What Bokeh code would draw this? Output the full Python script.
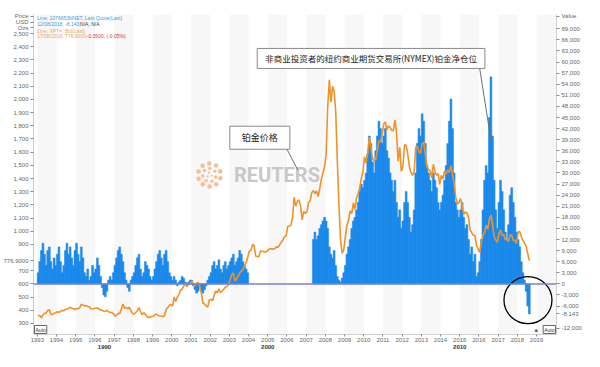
import numpy as np
from bokeh.plotting import figure
from bokeh.models import (Range1d, LinearAxis, FixedTicker, NumeralTickFormatter,
                          Span, BoxAnnotation, Label, Arrow)
from bokeh.embed import file_html
from bokeh.resources import INLINE

# ---------------- data ----------------
START_YEAR = 1993
# platinum price, USD/oz, monthly from Jan 1993 to Aug 2018
price = [
    356, 361, 343, 363, 377, 379, 399, 403, 368, 368, 377, 381,        # 1993
    389, 385, 391, 400, 395, 406, 410, 414, 423, 416, 411, 406,        # 1994
    413, 411, 419, 445, 439, 435, 434, 428, 426, 410, 411, 413,        # 1995
    417, 417, 410, 402, 401, 392, 391, 400, 389, 384, 383, 375,        # 1996
    356, 362, 377, 374, 410, 447, 415, 423, 410, 422, 398, 374,        # 1997
    372, 383, 396, 421, 390, 366, 382, 371, 354, 344, 348, 353,        # 1998
    354, 366, 372, 360, 356, 357, 350, 360, 406, 421, 437, 444,        # 1999
    432, 500, 467, 500, 517, 554, 560, 583, 605, 580, 596, 605,        # 2000
    620, 600, 585, 604, 613, 581, 533, 455, 447, 432, 426, 478,        # 2001
    483, 472, 513, 547, 532, 563, 535, 546, 559, 577, 580, 595,        # 2002
    632, 669, 683, 622, 639, 660, 683, 698, 707, 740, 762, 802,        # 2003
    850, 853, 900, 890, 810, 808, 807, 852, 848, 845, 841, 848,        # 2004
    862, 866, 866, 864, 868, 883, 878, 898, 918, 934, 959, 965,        # 2005
    1035, 1039, 1046, 1104, 1259, 1190, 1226, 1238, 1194, 1085, 1150, 1135,  # 2006
    1147, 1219, 1231, 1293, 1309, 1286, 1305, 1263, 1323, 1392, 1443, 1489,  # 2007
    1582, 1950, 2150, 1980, 2100, 2060, 1907, 1531, 1199, 935, 832, 859,     # 2008
    957, 1046, 1085, 1155, 1134, 1216, 1165, 1254, 1284, 1331, 1402, 1451,   # 2009
    1566, 1516, 1600, 1714, 1627, 1553, 1533, 1546, 1610, 1686, 1681, 1733,  # 2010
    1816, 1829, 1768, 1800, 1788, 1765, 1762, 1846, 1747, 1531, 1637, 1455,  # 2011
    1495, 1656, 1653, 1585, 1493, 1446, 1424, 1451, 1639, 1643, 1604, 1591,  # 2012
    1664, 1674, 1583, 1491, 1468, 1459, 1405, 1508, 1453, 1425, 1437, 1356,  # 2013
    1424, 1396, 1457, 1434, 1464, 1447, 1498, 1433, 1359, 1260, 1205, 1216,  # 2014
    1249, 1198, 1128, 1146, 1138, 1105, 1007, 990, 969, 967, 891, 866,       # 2015
    840, 918, 966, 993, 1045, 1015, 1088, 1123, 1053, 960, 933, 915,         # 2016
    980, 1010, 968, 975, 936, 938, 922, 972, 970, 929, 932, 906,             # 2017
    995, 997, 960, 930, 909, 884, 830, 776.9,                                # 2018
]
# NYMEX platinum non-commercial net position (contracts), monthly from Jan 1993
N = None
net = [
    3000, 6000, 9000, 11000, 8000, 5000, 9000, 10000, 6000, 4000, 7000, 5000,   # 1993
    8000, 10000, 6000, 3000, 5000, 9000, 11000, 8000, 10000, 7000, 5000, 9000,  # 1994
    11000, 8000, 6000, 10000, 7000, 3000, 2000, 4000, 1000, 2000, 5000, 3000,   # 1995
    4000, 7000, 5000, 2000, -1000, -3000, -3500, -2000, 1000, 2000, 1000, 3000, # 1996
    5000, 7000, 9000, 10000, 8000, 6000, 3000, 1000, -1000, -2000, 1000, 2000,  # 1997
    3000, 5000, 7000, 8000, 4000, 2000, 3000, 6000, 5000, 4000, 2000, 1000,     # 1998
    2000, 4000, 6000, 8000, 9000, 7000, 5000, 8000, 9000, 6000, 3000, 2000,     # 1999
    1000, 2000, 1000, -500, 500, 1000, 2000, 1500, 500, -500, 500, 1000,        # 2000
    1000, -500, -1500, -2500, -2000, -1000, -2000, -2500, -1500, -500, 1000, 2000,  # 2001
    3000, 5000, 6000, 4000, 5000, 6500, 4000, 3000, 5000, 6000, 4000, 5000,     # 2002
    6000, 7000, 8000, 5000, 6000, 7000, 9000, 8000, 6000, 5000, 4000, 3000,     # 2003
    N, N, N, N, N, N, N, N, N, N, N, N,                                         # 2004
    N, N, N, N, N, N, N, N, N, N, N, N,                                         # 2005
    N, N, N, N, N, N, N, N, N, N, N, N,                                         # 2006
    N, N, N, N, 12000, 14000, 12000, 13000, 15000, 16000, 17000, 18000,         # 2007
    17000, 15000, 10000, 8000, 7000, 9000, 5000, 2000, 1000, 500, 1500, 3000,   # 2008
    5000, 8000, 10000, 12000, 15000, 17000, 18000, 20000, 22000, 25000, 27000, 26000,  # 2009
    28000, 30000, 35000, 40000, 38000, 33000, 30000, 36000, 40000, 44000, 42000, 38000,  # 2010
    40000, 42000, 36000, 34000, 30000, 28000, 25000, 28000, 22000, 18000, 20000, 15000,  # 2011
    17000, 22000, 25000, 22000, 18000, 14000, 16000, 20000, 30000, 38000, 42000, 40000,  # 2012
    46000, 44000, 38000, 32000, 30000, 28000, 25000, 30000, 28000, 26000, 22000, 20000,  # 2013
    22000, 24000, 28000, 32000, 38000, 44000, 50000, 42000, 30000, 22000, 20000, 18000,  # 2014
    20000, 22000, 18000, 15000, 16000, 12000, 8000, 10000, 6000, 8000, 2000, 3000,       # 2015
    6000, 12000, 20000, 28000, 32000, 30000, 45000, 56000, 40000, 28000, 20000, 15000,   # 2016
    22000, 28000, 25000, 20000, 14000, 12000, 16000, 24000, 26000, 22000, 18000, 14000,  # 2017
    12000, 10000, 6000, 3000, 1000, -2000, -6000, -8143,                                 # 2018
]
LAST_PRICE = 776.9
LAST_NET = -8143
price_ticks = [300, 400, 500, 600, 700, 900, 1000, 1100, 1200, 1300, 1400, 1500, 1600, 1700,
               1800, 1900, 2000, 2100, 2200, 2300, 2400, 2500]
value_ticks = [-12000, -6000, -3000, 0, 3000, 6000, 9000, 12000, 15000, 18000, 21000, 24000,
               27000, 30000, 33000, 36000, 39000, 42000, 45000, 48000, 51000, 54000, 57000,
               60000, 63000, 66000, 69000]
year_ticks = list(range(1993, 2020))
decade_ticks = [1996.5, 2005.0, 2015.0]
decade_labels = ["1990", "2000", "2010"]
left_header = ["Price", "USD", "Ozs"]
right_header = "Value"

title_text = "押注铂金下跌的投机性空仓自2001年以来首次超过押注上涨的多仓"
note_net = "非商业投资者的纽约商业期货交易所(NYMEX)铂金净仓位"
note_price = "铂金价格"

# ---------------- geometry helpers (reference pixel -> data) ----------------
X0, X1 = 1992.80, 2020.04
Y_TOP, Y_BOT = 2645.0, 216.0
R_TOP, R_BOT = 72870.0, -13700.0


def rx(px):
    return X0 + (px - 29) / 550.0 * (X1 - X0)


def ry(py):
    return Y_TOP - (py - 17) / 335.0 * (Y_TOP - Y_BOT)


def rr(py):
    return R_TOP - (py - 17) / 335.0 * (R_TOP - R_BOT)


ORANGE = "#f0922a"
BLUE = "#1a8cf0"
CJK = "Noto Sans CJK SC"
SANS = "Liberation Sans"

p = figure(width=584, height=351, x_range=Range1d(X0, X1), y_range=Range1d(Y_BOT, Y_TOP),
           output_backend="svg", toolbar_location=None,
           min_border_left=20, min_border_right=23, min_border_top=14, min_border_bottom=0,
           background_fill_color="white", border_fill_color="white", outline_line_color=None)
p.extra_y_ranges = {"right": Range1d(R_BOT, R_TOP)}
p.xgrid.visible = False
p.ygrid.visible = False

# alternating year stripes
for yr in range(1993, 2021, 2):
    p.add_layout(BoxAnnotation(left=yr, right=yr + 1, fill_color="#f7f7f7", fill_alpha=1.0,
                               line_color=None, level="underlay"))

# bars for net position
mx = [START_YEAR + (i + 0.5) / 12.0 for i in range(len(net))]
bx = [x for x, v in zip(mx, net) if v is not None]
bv = [v for v in net if v is not None]
p.vbar(x=bx, top=bv, bottom=0, width=1.15 / 12.0, y_range_name="right",
       fill_color=BLUE, line_color="#1a80e0", line_width=0.5)

p.add_layout(Span(location=600, dimension="width", line_color="#7c80c8", line_width=1.5))

px = [START_YEAR + (i + 0.5) / 12.0 for i in range(len(price))]
p.line(px, price, line_color=ORANGE, line_width=1.6)

# ---------------- axes ----------------
def style_axis(ax, size="6px"):
    ax.major_label_text_font = SANS
    ax.major_label_text_font_size = size
    ax.major_label_text_color = "#666666"
    ax.axis_line_color = "#d0d0d0"
    ax.major_tick_line_color = "#888888"
    ax.minor_tick_line_color = None
    ax.major_tick_in = 0
    ax.major_tick_out = 3
    ax.major_label_standoff = 2


# left axis: price ticks + last-price tag + header rows
hdr_pos = [round(ry(19 + 6 * i), 1) for i in range(3)]
left_over = {LAST_PRICE: "776.9000"}
left_over.update(dict(zip(hdr_pos, left_header)))
ya = p.yaxis[0]
ya.ticker = FixedTicker(ticks=price_ticks + [LAST_PRICE] + hdr_pos)
ya.formatter = NumeralTickFormatter(format="0,0")
ya.major_label_overrides = left_over
style_axis(ya)

val_pos = round(rr(19), 0)
ra = LinearAxis(y_range_name="right", ticker=FixedTicker(ticks=value_ticks + [LAST_NET, val_pos]),
                formatter=NumeralTickFormatter(format="0,0"),
                major_label_overrides={LAST_NET: "-8,143", val_pos: right_header})
style_axis(ra)
p.add_layout(ra, "right")

xa = p.xaxis[0]
xa.ticker = FixedTicker(ticks=year_ticks)
xa.formatter = NumeralTickFormatter(format="0")
style_axis(xa)
xa.major_tick_out = 2
xa.major_label_standoff = 1

da = LinearAxis(ticker=FixedTicker(ticks=decade_ticks),
                major_label_overrides=dict(zip(decade_ticks, decade_labels)))
style_axis(da)
da.axis_line_color = None
da.major_tick_line_color = None
da.major_tick_out = 0
da.major_label_standoff = 0
da.major_label_text_color = "#333333"
da.major_label_text_font_style = "bold"
p.add_layout(da, "below")


def add_text(x, y, text, **kw):
    opts = dict(text_font=SANS, text_font_size="5px", text_align="left",
                text_baseline="middle", level="overlay")
    opts.update(kw)
    p.add_layout(Label(x=x, y=y, text=text, **opts))


# ---------------- texts ----------------
add_text(X0, ry(8), title_text, x_offset=-26, text_font=CJK, text_font_size="9px",
         text_font_style="bold", text_color="#222222")

legend_rows = [
    ("Line; 1076653NNET, Last Quote(Last)", "#3d9be0", 33, 21),
    ("12/08/2018, -8,143,", "#3d9be0", 33, 27),
    ("N/A, N/A", "#444444", 78, 27),
    ("Line; XPT=, Bid(Last)", "#e9a55a", 33, 34),
    ("17/08/2018, 776.9000,", "#e9a55a", 33, 40),
    ("-0.3500, (-0.05%)", "#d33a3a", 85, 40),
]
for t, c, x0, y0 in legend_rows:
    add_text(rx(x0), ry(y0), t, text_color=c)

# Auto boxes in the bottom corners
add_text(X0, Y_BOT, "Auto", x_offset=1, y_offset=5, text_color="#333333",
         background_fill_color="white", border_line_color="#666666", padding=1)
add_text(X1, Y_BOT, "Auto", x_offset=-1, y_offset=5, text_align="right", text_color="#333333",
         background_fill_color="white", border_line_color="#666666", padding=1)
add_text(X1, Y_BOT, "■", x_offset=-19, y_offset=5, text_align="right", text_color="#555555")

# watermark
for rad, sz, k in [(12, 4.5, 10), (7, 3.5, 7), (2.5, 2.2, 3)]:
    a = np.linspace(0, 2 * np.pi, k + 1)[:-1] + 0.3
    xs = [rx(214 + rad * np.cos(t)) for t in a]
    ys = [ry(185 + rad * np.sin(t)) for t in a]
    p.scatter(xs, ys, size=sz, fill_color="#f4b383", line_color=None, fill_alpha=0.85)
p.add_layout(Label(x=rx(285), y=ry(185), text="REUTERS", text_font="Roboto", text_font_size="20px",
                   text_font_style="bold", text_color="#c8c8c8", text_align="center",
                   text_baseline="middle"))

# annotation boxes
p.add_layout(Arrow(end=None, x_start=rx(498), y_start=ry(72), x_end=rx(510), y_end=ry(148),
                   line_color="#707070", line_width=1))
p.add_layout(Label(x=rx(384), y=ry(63), text=note_net, text_font=CJK, text_font_size="8.5px",
                   text_color="#222222", text_align="center", text_baseline="middle",
                   background_fill_color="white", border_line_color="#8a8a8a", padding=(8, 4)))
p.add_layout(Arrow(end=None, x_start=rx(294), y_start=ry(155), x_end=rx(307), y_end=ry(180),
                   line_color="#707070", line_width=1))
p.add_layout(Label(x=rx(267), y=ry(146), text=note_price, text_font=CJK, text_font_size="9px",
                   text_color="#222222", text_align="center", text_baseline="middle",
                   background_fill_color="white", border_line_color="#8a8a8a", padding=(12, 5)))

# highlight circle
p.ellipse(x=[rx(549)], y=[ry(316)], width=48, height=47, width_units="screen",
          height_units="screen", fill_color=None, line_color="black", line_width=1.3)

open("out.html", "w").write(file_html(p, INLINE))
